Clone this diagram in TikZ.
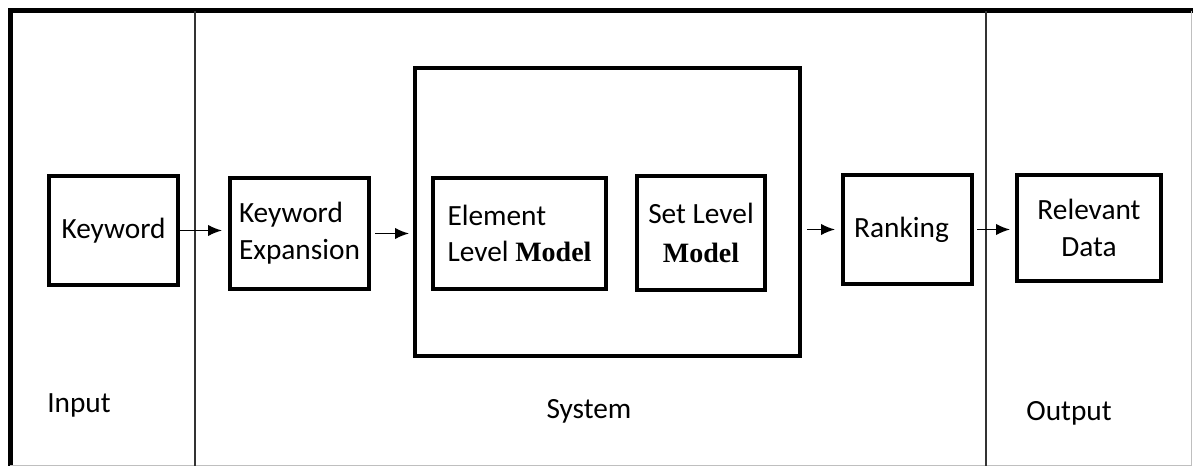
\documentclass[tikz,border=0pt]{standalone}
\usepackage{fontspec}
\setmainfont{Carlito}
\newfontfamily\modelfont{Liberation Serif}
\usepackage{tikz}
\usetikzlibrary{arrows.meta}

% 1px = 0.75pt throughout
\tikzset{
  blk/.style={draw=black,line width=3pt,inner sep=0pt,align=center,
    font=\fontsize{22}{27.5}\selectfont},
  lbl/.style={inner sep=0pt,font=\fontsize{22}{27}\selectfont},
  flow/.style={-{Latex[length=10.5pt,width=8.5pt]},line width=1.1pt},
  lane/.style={line width=1.1pt,black!80}
}
\newcommand{\mdl}{{\modelfont\bfseries\fontsize{21}{27}\selectfont Model}}

\begin{document}
\begin{tikzpicture}[x=0.75pt,y=-0.75pt]
	\useasboundingbox (0,0) rectangle (1193,466);
	% frame and lanes
	\draw[line width=3.75pt] (10,466) -- (10,11) -- (1193,11);
	\draw[black!25,line width=0.75pt] (1191,11) -- (1191,465.5) -- (10,465.5);
	\draw[lane] (195,11) -- (195,466);
	\draw[lane] (986,11) -- (986,466);
	% blocks
	\node[blk,minimum width=96.75pt,minimum height=81.75pt] (kw) at (113.5,230.5) {Keyword};
	\node[blk,minimum width=104.25pt,minimum height=83.25pt,align=left] (kwexp) at (299.5,233.5) {Keyword\\Expansion};
	\node[blk,minimum width=288.75pt,minimum height=216pt] (sys) at (607.5,212) {};
	\node[blk,minimum width=129.75pt,minimum height=83.25pt,align=left] (elem) at (519.5,233.5) {Element\\Level \mdl};
	\node[blk,minimum width=96pt,minimum height=85.5pt] (setlvl) at (701,233) {Set Level\\[2pt]\mdl};
	\node[blk,minimum width=96.75pt,minimum height=81.75pt] (rank) at (907.5,229.5) {Ranking\hspace{9pt}};
	\node[blk,minimum width=108pt,minimum height=79.5pt] (relev) at (1089,228) {Relevant\\Data};
	% arrows
	\draw[flow,shorten >=4.5pt] (kw.east) -- (kw.east -| kwexp.west);
	\draw[flow,shorten <=3pt,shorten >=3pt] (kwexp.east) -- (kwexp.east -| sys.west);
	\draw[flow,shorten <=3.75pt,shorten >=4.5pt] (sys.east |- rank.west) -- (rank.west);
	\draw[flow,shorten <=2.25pt,shorten >=3.75pt] (rank.east) -- (rank.east -| relev.west);
	% lane labels
	\node[lbl,anchor=west] (inp) at (47,405) {Input};
	\node[lbl] (sysl) at (589,411) {System};
	\node[lbl] (outp) at (1069,413) {Output};
\end{tikzpicture}
\end{document}
